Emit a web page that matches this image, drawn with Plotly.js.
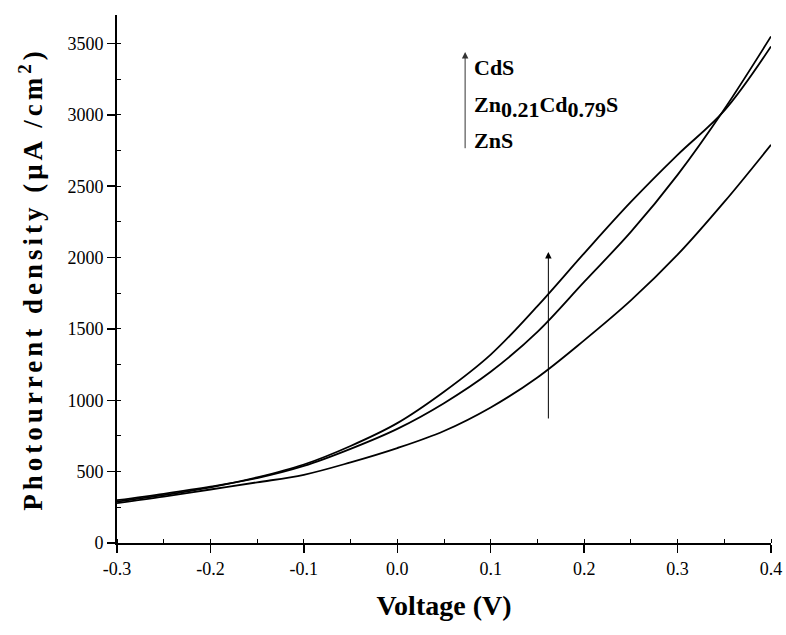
<!DOCTYPE html>
<html><head><meta charset="utf-8">
<script src="https://cdn.plot.ly/plotly-3.0.1.min.js"></script>
<style>html,body{margin:0;padding:0;background:#fff}</style>
</head><body><div id="chart" style="width:786px;height:635px"></div>
<script>
const voltage = [-0.3, -0.25, -0.2, -0.15, -0.1, -0.05, 0.0, 0.05, 0.1, 0.15, 0.2, 0.25, 0.3, 0.35, 0.4];
const cdsCurrent = [290, 335, 390, 460, 550, 680, 840, 1060, 1320, 1660, 2030, 2390, 2720, 3030, 3480];
const znCdCurrent = [300, 345, 395, 455, 540, 660, 800, 980, 1200, 1480, 1830, 2180, 2580, 3040, 3550];
const znsCurrent = [280, 325, 375, 425, 478, 565, 665, 785, 950, 1160, 1420, 1700, 2020, 2390, 2790];
const xTickVals = [-0.3, -0.2, -0.1, 0.0, 0.1, 0.2, 0.3, 0.4];
const xTickText = ['-0.3', '-0.2', '-0.1', '0.0', '0.1', '0.2', '0.3', '0.4'];
const yTickVals = [0, 500, 1000, 1500, 2000, 2500, 3000, 3500];
const yTickText = ['0', '500', '1000', '1500', '2000', '2500', '3000', '3500'];
const sampleNames = ['CdS', 'Zn<sub><span style="font-size:22px">0.21</span></sub>Cd<sub><span style="font-size:22px">0.79</span></sub>S', 'ZnS'];

const FONT = 'Liberation Serif';
const lineStyle = {color: '#000', width: 1.8, shape: 'spline', smoothing: 1};
const traces = [
  {x: voltage, y: cdsCurrent, name: 'CdS', mode: 'lines', line: lineStyle, showlegend: false},
  {x: voltage, y: znCdCurrent, name: 'Zn0.21Cd0.79S', mode: 'lines', line: lineStyle, showlegend: false},
  {x: voltage, y: znsCurrent, name: 'ZnS', mode: 'lines', line: lineStyle, showlegend: false}
];

const xr = [-0.3, 0.4], yr = [0, 3700];
const layout = {
  width: 786, height: 635,
  margin: {l: 117, r: 15, t: 15, b: 92},
  paper_bgcolor: '#fff', plot_bgcolor: '#fff',
  font: {family: FONT, color: '#000', size: 17},
  showlegend: false,
  xaxis: {
    range: xr, tickmode: 'array', tickvals: xTickVals, ticktext: xTickText,
    ticks: 'outside', ticklen: 8, tickwidth: 1.5, tickcolor: '#000',
    showline: true, linewidth: 2, linecolor: '#000', showgrid: false, zeroline: false,
    tickfont: {family: FONT, size: 18, color: '#000'},
    minor: {tickmode: 'linear', tick0: -0.3, dtick: 0.05, ticks: 'inside', ticklen: 4, tickwidth: 1, tickcolor: '#000', showgrid: false},
    title: {text: '<b>Voltage (V)</b>', font: {family: FONT, size: 28, color: '#000'}, standoff: 18},
    automargin: false, fixedrange: true
  },
  yaxis: {
    range: yr, tickmode: 'array', tickvals: yTickVals, ticktext: yTickText,
    ticks: 'outside', ticklen: 8, tickwidth: 1.5, tickcolor: '#000',
    showline: true, linewidth: 2, linecolor: '#000', showgrid: false, zeroline: false,
    tickfont: {family: FONT, size: 18, color: '#000'},
    minor: {tickmode: 'linear', tick0: 0, dtick: 250, ticks: 'inside', ticklen: 4, tickwidth: 1, tickcolor: '#000', showgrid: false},
    title: {text: '<b>Photourrent density (μA /cm<sup>2</sup>)</b>', font: {family: FONT, size: 27, color: '#000'}, standoff: 17},
    automargin: false, fixedrange: true
  },
  xaxis2: {
    overlaying: 'x', side: 'top', anchor: 'y', range: xr,
    tickmode: 'linear', tick0: -0.3, dtick: 0.05, ticks: 'inside', ticklen: 3, tickwidth: 1, tickcolor: '#000',
    showticklabels: false, showline: true, linewidth: 2, linecolor: '#000', showgrid: false, zeroline: false, fixedrange: true
  },
  yaxis2: {
    overlaying: 'y', side: 'right', anchor: 'x', range: yr,
    tickmode: 'linear', tick0: 0, dtick: 250, ticks: 'inside', ticklen: 5, tickwidth: 1, tickcolor: '#000',
    showticklabels: false, showline: true, linewidth: 2, linecolor: '#000', showgrid: false, zeroline: false, fixedrange: true
  },
  annotations: [
    {xref: 'x', yref: 'y', axref: 'x', ayref: 'y', x: 0.1617, y: 2040, ax: 0.1617, ay: 862, text: '', showarrow: true, arrowhead: 2, arrowsize: 1.3, arrowwidth: 1, arrowcolor: '#000'},
    {xref: 'x', yref: 'y', axref: 'x', ayref: 'y', x: 0.0726, y: 3440, ax: 0.0726, ay: 2756, text: '', showarrow: true, arrowhead: 2, arrowsize: 1.3, arrowwidth: 1, arrowcolor: '#333'},
    {xref: 'paper', yref: 'paper', x: 0.5428, y: 0.9015, xanchor: 'left', yanchor: 'middle', showarrow: false, text: '<b>' + sampleNames[0] + '</b>', font: {family: FONT, size: 22, color: '#000'}},
    {xref: 'paper', yref: 'paper', x: 0.5428, y: 0.826, xanchor: 'left', yanchor: 'middle', showarrow: false, text: '<b>' + sampleNames[1] + '</b>', font: {family: FONT, size: 22, color: '#000'}},
    {xref: 'paper', yref: 'paper', x: 0.5428, y: 0.763, xanchor: 'left', yanchor: 'middle', showarrow: false, text: '<b>' + sampleNames[2] + '</b>', font: {family: FONT, size: 22, color: '#000'}}
  ]
};

Plotly.newPlot('chart', traces, layout, {displayModeBar: false, staticPlot: true}).then(function () {
  const yt = document.querySelector('.ytitle');
  if (yt) { yt.style.letterSpacing = '4px'; }
});
</script>
</body></html>
